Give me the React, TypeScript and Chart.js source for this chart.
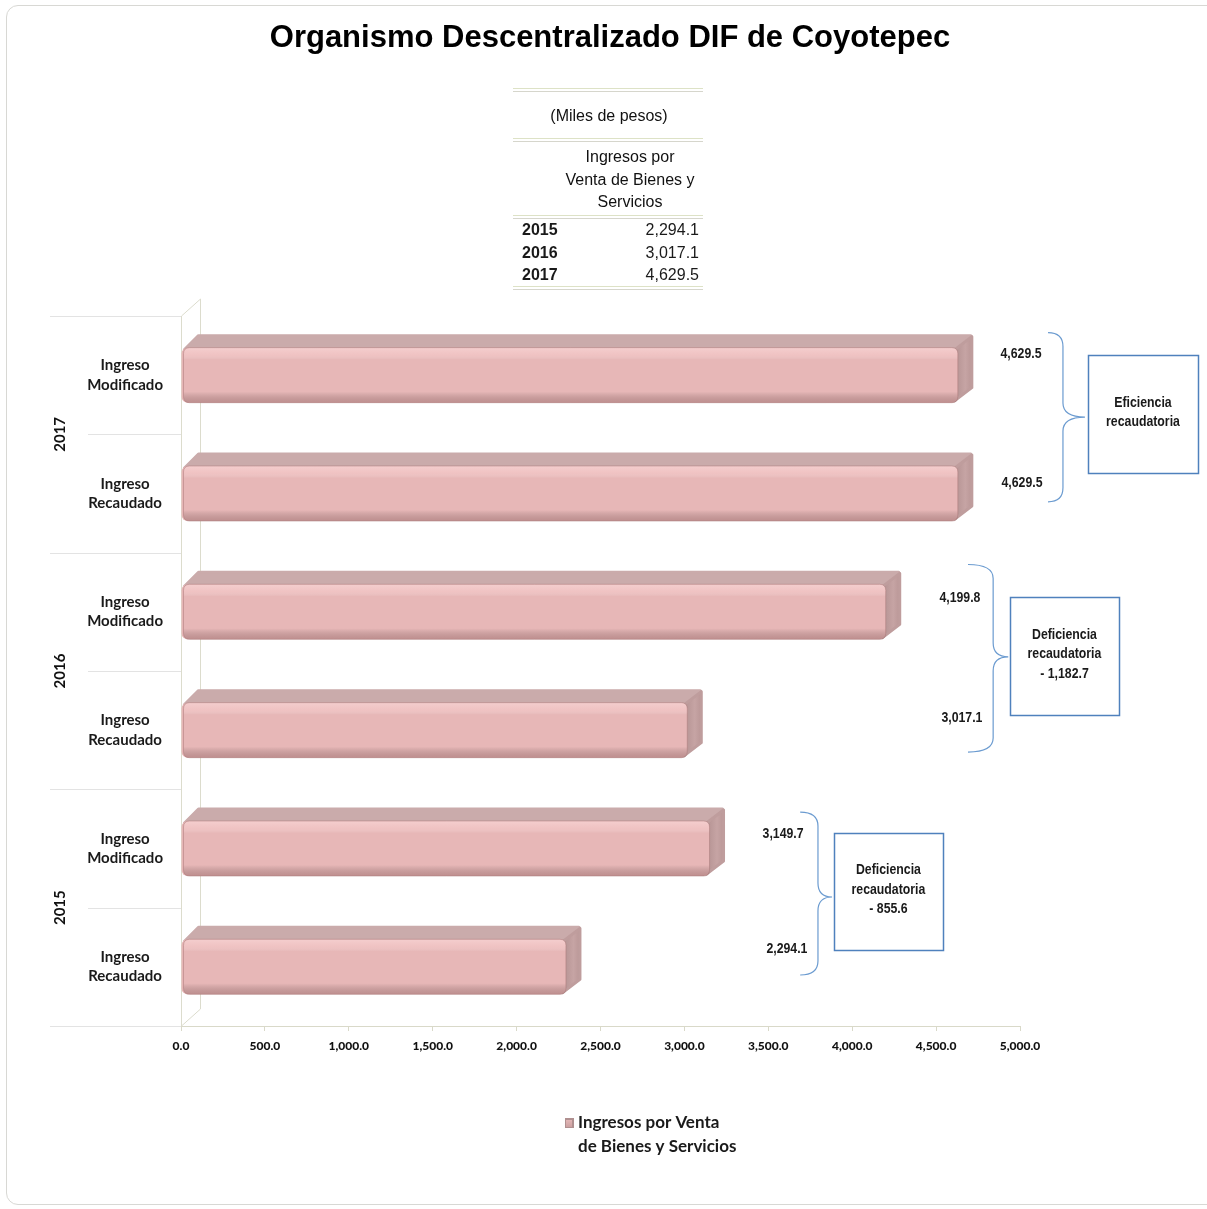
import React, { useEffect, useRef } from "react";
import { Chart, registerables } from "chart.js";

Chart.register(...registerables);

// ---------- data ----------
const title = "Organismo Descentralizado DIF de Coyotepec";
const categories: string[][] = [
  ["Ingreso", "Modificado"],
  ["Ingreso", "Recaudado"],
  ["Ingreso", "Modificado"],
  ["Ingreso", "Recaudado"],
  ["Ingreso", "Modificado"],
  ["Ingreso", "Recaudado"],
];
const groupYears = ["2017", "2016", "2015"];
const values = [4629.5, 4629.5, 4199.8, 3017.1, 3149.7, 2294.1];
const seriesLabel = ["Ingresos por Venta", "de Bienes y Servicios"];
const xMin = 0;
const xMax = 5000;
const xStep = 500;
const tableUnit = "(Miles de pesos)";
const tableHeader = ["Ingresos por", "Venta de Bienes y", "Servicios"];
const tableYears = ["2015", "2016", "2017"];
const tableValues = [2294.1, 3017.1, 4629.5];
const boxTitles = [["Eficiencia", "recaudatoria"], ["Deficiencia", "recaudatoria"], ["Deficiencia", "recaudatoria"]];

const fmt = (v: number) =>
  v.toLocaleString("en-US", { minimumFractionDigits: 1, maximumFractionDigits: 1 });

// ---------- decoration layout (in scale units: x value, y category index) ----------
const labelPos = [
  { x: 5006, y: -0.18 },
  { x: 5012, y: 0.91 },
  { x: 4642, y: 1.88 },
  { x: 4654, y: 2.9 },
  { x: 3588, y: 3.88 },
  { x: 3611, y: 4.85 },
];
const braces = [
  { x0: 5167, xs: 5256, xt: 5387, top: -0.36, tip: 0.354, bot: 1.07, bx0: 5405, bx1: 6061, by0: -0.17, by1: 0.83 },
  { x0: 4690, xs: 4840, xt: 4930, top: 1.6, tip: 2.38, bot: 3.185, bx0: 4940, bx1: 5590, by0: 1.875, by1: 2.872 },
  { x0: 3690, xs: 3796, xt: 3880, top: 3.692, tip: 4.41, bot: 5.069, bx0: 3892, bx1: 4540, by0: 3.869, by1: 4.858 },
];

const ARIAL = '"Liberation Sans", Arial, sans-serif';
const CAL = 'Lato, "Open Sans", sans-serif';
const DX = 15;
const DY = 13;

function narrowText(ctx: CanvasRenderingContext2D, s: string, x: number, y: number) {
  ctx.save();
  ctx.translate(x, y);
  ctx.scale(0.82, 1);
  ctx.fillText(s, 0, 0);
  ctx.restore();
}

function roundRect(ctx: CanvasRenderingContext2D, x: number, y: number, w: number, h: number, r: number) {
  ctx.beginPath();
  ctx.moveTo(x + r, y);
  ctx.lineTo(x + w - r, y);
  ctx.quadraticCurveTo(x + w, y, x + w, y + r);
  ctx.lineTo(x + w, y + h - r);
  ctx.quadraticCurveTo(x + w, y + h, x + w - r, y + h);
  ctx.lineTo(x + r, y + h);
  ctx.quadraticCurveTo(x, y + h, x, y + h - r);
  ctx.lineTo(x, y + r);
  ctx.quadraticCurveTo(x, y, x + r, y);
  ctx.closePath();
}

const decor = {
  id: "decor",
  beforeDatasetsDraw(chart: any) {
    const { ctx, chartArea } = chart;
    const { left, top, bottom } = chartArea;
    const band = (bottom - top) / categories.length;
    ctx.save();
    // back wall
    ctx.strokeStyle = "#dcdccd";
    ctx.lineWidth = 1;
    ctx.beginPath();
    ctx.moveTo(left + 0.5, bottom);
    ctx.lineTo(left + 0.5, top);
    ctx.lineTo(left + 19.5, top - 17);
    ctx.lineTo(left + 19.5, bottom - 17);
    ctx.lineTo(left + 0.5, bottom);
    ctx.stroke();
    // separators
    ctx.strokeStyle = "#e3e3e3";
    for (let k = 0; k <= categories.length; k++) {
      const yy = Math.round(top + k * band) + 0.5;
      ctx.beginPath();
      ctx.moveTo(k % 2 === 0 ? 50 : 88, yy);
      ctx.lineTo(left, yy);
      ctx.stroke();
    }
    // 3D faces
    const meta = chart.getDatasetMeta(0);
    meta.data.forEach((bar: any) => {
      const { x, y, base, height } = bar.getProps(["x", "y", "base", "height"], true);
      const t = y - height / 2;
      const b = y + height / 2;
      ctx.lineJoin = "round";
      ctx.lineWidth = 3;
      // top face
      ctx.fillStyle = "#caabab";
      ctx.strokeStyle = "#caabab";
      ctx.beginPath();
      ctx.moveTo(base + 3, t + 2);
      ctx.lineTo(base + DX + 2, t - DY + 1);
      ctx.lineTo(x + DX - 2, t - DY + 1);
      ctx.lineTo(x - 3, t + 2);
      ctx.closePath();
      ctx.fill();
      ctx.stroke();
      // side face
      const g = ctx.createLinearGradient(x, 0, x + DX, 0);
      g.addColorStop(0, "#b99797");
      g.addColorStop(0.5, "#c6a4a4");
      g.addColorStop(1, "#b89595");
      ctx.fillStyle = g;
      ctx.strokeStyle = "#bf9d9d";
      ctx.beginPath();
      ctx.moveTo(x - 3, t + 2);
      ctx.lineTo(x + DX - 1, t - DY + 2);
      ctx.lineTo(x + DX - 1, b - DY - 2);
      ctx.lineTo(x - 3, b - 2);
      ctx.closePath();
      ctx.fill();
      ctx.stroke();
    });
    ctx.restore();
  },
  afterDatasetsDraw(chart: any) {
    const { ctx, chartArea } = chart;
    const { top, bottom } = chartArea;
    const xs = chart.scales.x;
    const ys = chart.scales.y;
    const band = (bottom - top) / categories.length;
    ctx.save();
    // front face shading
    const meta = chart.getDatasetMeta(0);
    meta.data.forEach((bar: any) => {
      const { x, y, base, height } = bar.getProps(["x", "y", "base", "height"], true);
      const t = y - height / 2;
      const g = ctx.createLinearGradient(0, t, 0, t + height);
      g.addColorStop(0, "rgba(255,225,225,0.55)");
      g.addColorStop(0.14, "rgba(255,215,215,0.35)");
      g.addColorStop(0.22, "rgba(255,255,255,0)");
      g.addColorStop(0.8, "rgba(0,0,0,0)");
      g.addColorStop(1, "rgba(110,60,60,0.32)");
      roundRect(ctx, base + 2, t, x - base - 2, height, 6);
      ctx.fillStyle = g;
      ctx.fill();
      ctx.strokeStyle = "rgba(170,120,120,0.5)";
      ctx.lineWidth = 1;
      ctx.stroke();
    });

    // year labels
    ctx.fillStyle = "#111";
    ctx.font = `bold 15px ${CAL}`;
    ctx.textAlign = "center";
    ctx.textBaseline = "middle";
    groupYears.forEach((yr, i) => {
      const cy = top + (2 * i + 1) * band;
      ctx.save();
      ctx.translate(60, cy);
      ctx.rotate(-Math.PI / 2);
      ctx.fillText(yr, 0, 0);
      ctx.restore();
    });

    // value labels
    ctx.font = `bold 15px ${ARIAL}`;
    ctx.fillStyle = "#1a1a1a";
    values.forEach((v, i) => {
      const p = labelPos[i];
      narrowText(ctx, fmt(v), xs.getPixelForValue(p.x), ys.getPixelForValue(p.y));
    });

    // braces and boxes
    braces.forEach((br, i) => {
      const x0 = xs.getPixelForValue(br.x0);
      const xsp = xs.getPixelForValue(br.xs);
      const xt = xs.getPixelForValue(br.xt);
      const yt = ys.getPixelForValue(br.top);
      const ym = ys.getPixelForValue(br.tip);
      const yb = ys.getPixelForValue(br.bot);
      const r = 14;
      ctx.strokeStyle = "#6b9bd0";
      ctx.lineWidth = 1.2;
      ctx.beginPath();
      ctx.moveTo(x0, yt);
      ctx.quadraticCurveTo(xsp, yt, xsp, yt + r);
      ctx.lineTo(xsp, ym - r);
      ctx.quadraticCurveTo(xsp, ym, xt, ym);
      ctx.quadraticCurveTo(xsp, ym, xsp, ym + r);
      ctx.lineTo(xsp, yb - r);
      ctx.quadraticCurveTo(xsp, yb, x0, yb);
      ctx.stroke();

      const bx0 = xs.getPixelForValue(br.bx0);
      const bx1 = xs.getPixelForValue(br.bx1);
      const by0 = ys.getPixelForValue(br.by0);
      const by1 = ys.getPixelForValue(br.by1);
      ctx.strokeStyle = "#4f81bd";
      ctx.lineWidth = 1.5;
      ctx.strokeRect(Math.round(bx0) + 0.5, Math.round(by0) + 0.5, Math.round(bx1 - bx0), Math.round(by1 - by0));

      const lines = [...boxTitles[i]];
      if (i > 0) {
        const diff = values[2 * i] - values[2 * i + 1];
        lines.push("- " + fmt(diff));
      }
      const cx = (bx0 + bx1) / 2;
      const cy = (by0 + by1) / 2;
      const lh = 19.5;
      ctx.fillStyle = "#1a1a1a";
      ctx.font = `bold 15px ${ARIAL}`;
      lines.forEach((ln, k) => {
        narrowText(ctx, ln, cx, cy + (k - (lines.length - 1) / 2) * lh - 2);
      });
    });

    // legend
    const lx = 565;
    const ly = 1118;
    const lg = ctx.createLinearGradient(0, ly, 0, ly + 10);
    lg.addColorStop(0, "#e9bcbc");
    lg.addColorStop(1, "#c99e9e");
    ctx.fillStyle = "#b09090";
    ctx.fillRect(lx, ly, 9, 10);
    ctx.fillStyle = lg;
    ctx.fillRect(lx + 1, ly + 2, 6, 7);
    ctx.fillStyle = "#1a1a1a";
    ctx.font = `bold 17px ${CAL}`;
    ctx.textAlign = "left";
    ctx.fillText(seriesLabel[0], 578, 1123);
    ctx.fillText(seriesLabel[1], 578, 1147);
    ctx.restore();
  },
};

export default function App() {
  const ref = useRef<HTMLCanvasElement>(null);
  useEffect(() => {
    if (!ref.current) return;
    const chart = new Chart(ref.current, {
      type: "bar",
      data: {
        labels: categories as any,
        datasets: [
          {
            label: seriesLabel.join(" "),
            data: values,
            backgroundColor: "#e7b7b7",
            borderRadius: 6,
            borderSkipped: false,
            barPercentage: 0.465,
            categoryPercentage: 1,
          },
        ],
      },
      options: {
        indexAxis: "y",
        responsive: false,
        animation: false,
        layout: { padding: { left: 50, right: 187, top: 316, bottom: 143 } },
        plugins: { legend: { display: false }, tooltip: { enabled: false }, title: { display: false } },
        scales: {
          x: {
            min: xMin,
            max: xMax,
            ticks: {
              stepSize: xStep,
              callback: (v: any) => fmt(Number(v)),
              font: { family: CAL, weight: "900", size: 12 },
              color: "#111",
              padding: 8,
              maxRotation: 0,
              autoSkip: false,
            },
            grid: { drawOnChartArea: false, color: "#d9d9c9", tickLength: 5 },
            border: { color: "#d9d9c9" },
            afterFit: (s: any) => {
              s.height = 40;
              s.paddingLeft = 0;
              s.paddingRight = 0;
            },
          },
          y: {
            ticks: {
              font: { family: CAL, weight: "bold", size: 15, lineHeight: 1.3 },
              color: "#1a1a1a",
              crossAlign: "center",
              padding: 10,
            },
            grid: { display: false },
            border: { display: false },
            afterFit: (s: any) => {
              s.width = 131;
              s.paddingTop = 0;
              s.paddingBottom = 0;
            },
          },
        },
      } as any,
      plugins: [decor],
    });
    return () => chart.destroy();
  }, []);

  const dbl: React.CSSProperties = {
    position: "absolute",
    left: 513,
    width: 190,
    height: 2,
    borderTop: "1px solid #dde2c6",
    borderBottom: "1px solid #d6d6cc",
  };
  const txt: React.CSSProperties = {
    position: "absolute",
    fontFamily: ARIAL,
    fontSize: 16,
    lineHeight: "22px",
    color: "#1a1a1a",
    whiteSpace: "nowrap",
  };

  return (
    <div style={{ position: "absolute", left: 0, top: 0, width: 1207, height: 1209, overflow: "hidden", background: "#fff" }}>
      <div
        style={{
          position: "absolute",
          left: 6,
          top: 5,
          width: 1220,
          height: 1200,
          border: "1px solid #d8d8d4",
          borderRadius: 12,
          boxSizing: "border-box",
        }}
      />
      <canvas ref={ref} width={1207} height={1209} style={{ position: "absolute", left: 0, top: 0, width: 1207, height: 1209 }} />
      <div
        style={{
          position: "absolute",
          left: 6,
          top: 19,
          width: 1208,
          textAlign: "center",
          fontFamily: ARIAL,
          fontWeight: "bold",
          fontSize: 31,
          lineHeight: "36px",
          color: "#000",
          whiteSpace: "nowrap",
        }}
      >
        {title}
      </div>
      {/* table */}
      <div style={{ ...dbl, top: 88 }} />
      <div style={{ ...txt, left: 513, width: 192, top: 105, textAlign: "center", color: "#111" }}>{tableUnit}</div>
      <div style={{ ...dbl, top: 138 }} />
      {tableHeader.map((h, i) => (
        <div key={h} style={{ ...txt, left: 555, width: 150, top: 146 + i * 22.5, textAlign: "center", color: "#111" }}>
          {h}
        </div>
      ))}
      <div style={{ ...dbl, top: 215 }} />
      {tableYears.map((yr, i) => (
        <React.Fragment key={yr}>
          <div style={{ ...txt, left: 522, top: 219 + i * 22.5, fontWeight: "bold" }}>{yr}</div>
          <div style={{ ...txt, left: 560, width: 139, top: 219 + i * 22.5, textAlign: "right" }}>{fmt(tableValues[i])}</div>
        </React.Fragment>
      ))}
      <div style={{ ...dbl, top: 286 }} />
    </div>
  );
}
